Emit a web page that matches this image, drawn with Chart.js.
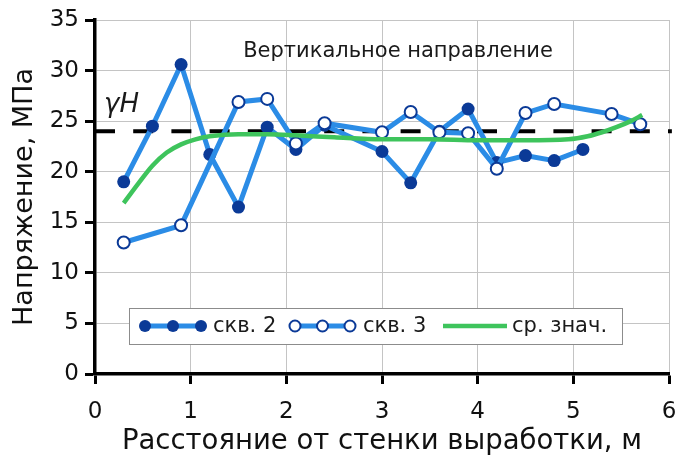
<!DOCTYPE html>
<html>
<head>
<meta charset="utf-8">
<script src="https://cdn.jsdelivr.net/npm/chart.js@4.4.0/dist/chart.umd.min.js"></script>
<style>
  html, body { margin: 0; padding: 0; background: #fff; }
</style>
</head>
<body>
<canvas id="chart" width="678" height="458"></canvas>
<script>
// скв. 2 (filled markers)
const skv2X = [0.3, 0.6, 0.9, 1.2, 1.5, 1.8, 2.1, 2.4, 3.0, 3.3, 3.6, 3.9, 4.2, 4.5, 4.8, 5.1];
const skv2Y = [19.0, 24.5, 30.6, 21.7, 16.5, 24.4, 22.2, 24.6, 22.0, 18.9, 24.0, 26.2, 20.9, 21.6, 21.1, 22.2];

// скв. 3 (hollow markers)
const skv3X = [0.3, 0.9, 1.5, 1.8, 2.1, 2.4, 3.0, 3.3, 3.6, 3.9, 4.2, 4.5, 4.8, 5.4, 5.7];
const skv3Y = [13.0, 14.7, 26.9, 27.2, 22.8, 24.8, 23.9, 25.9, 23.9, 23.8, 20.3, 25.8, 26.7, 25.7, 24.7];

// ср. знач. (smooth mean curve)
const meanX = [0.3, 0.45, 0.6, 0.75, 0.9, 1.05, 1.2, 1.5, 1.8, 2.1, 2.5, 3.0, 3.5, 4.0, 4.5, 4.95, 5.15, 5.3, 5.45, 5.6, 5.72];
const meanY = [16.9, 18.8, 20.6, 21.9, 22.7, 23.2, 23.5, 23.7, 23.7, 23.6, 23.4, 23.2, 23.2, 23.1, 23.1, 23.2, 23.5, 23.9, 24.4, 25.0, 25.6];

// γH level
const gammaH = 24;
const gammaX = [0, 6.03];

const xTicks = [0, 1, 2, 3, 4, 5, 6];
const yTicks = [0, 5, 10, 15, 20, 25, 30, 35];

const legendLabels = ["скв. 2", "скв. 3", "ср. знач."];
const chartTitle = "Вертикальное направление";

const BLUE = "#2b8ce6";
const NAVY = "#0b3a97";
const GREEN = "#3ec45c";
const FONT = "DejaVu Sans";

const toPts = (xs, ys) => xs.map((x, i) => ({ x: x, y: ys[i] }));

// title, γH label and in-plot legend
const overlayPlugin = {
  id: "overlay",
  afterDraw(chart) {
    const c = chart.ctx;
    const y = chart.scales.y;
    c.save();
    c.fillStyle = "#1a1a1a";
    c.textBaseline = "alphabetic";

    c.font = "21px '" + FONT + "'";
    c.textAlign = "center";
    c.fillText(chartTitle, 398, 57);

    c.font = "italic 26px '" + FONT + "'";
    c.textAlign = "left";
    c.fillText("\u03B3H", 104, y.getPixelForValue(gammaH) - 19);

    // legend box
    const bx = 129, by = 308, bw = 493, bh = 36, cy = by + bh / 2;
    c.fillStyle = "#fff";
    c.fillRect(bx, by, bw, bh);
    c.strokeStyle = "#8c8c8c";
    c.lineWidth = 1;
    c.strokeRect(bx + 0.5, by + 0.5, bw, bh);

    function markerLine(x0, x1, filled) {
      c.strokeStyle = BLUE;
      c.lineWidth = 5;
      c.beginPath(); c.moveTo(x0, cy); c.lineTo(x1, cy); c.stroke();
      [x0, (x0 + x1) / 2, x1].forEach(px => {
        c.beginPath();
        c.arc(px, cy, filled ? 6 : 5.5, 0, Math.PI * 2);
        c.fillStyle = filled ? NAVY : "#fff";
        c.fill();
        if (!filled) { c.strokeStyle = NAVY; c.lineWidth = 2; c.stroke(); }
      });
    }
    markerLine(145, 201, true);
    markerLine(295, 350, false);
    c.strokeStyle = GREEN;
    c.lineWidth = 4.5;
    c.beginPath(); c.moveTo(443, cy); c.lineTo(507, cy); c.stroke();

    c.fillStyle = "#1a1a1a";
    c.font = "21px '" + FONT + "'";
    c.textAlign = "left";
    c.textBaseline = "middle";
    c.fillText(legendLabels[0], 213, cy + 1);
    c.fillText(legendLabels[1], 363, cy + 1);
    c.fillText(legendLabels[2], 512, cy + 1);
    c.restore();
  }
};

new Chart(document.getElementById("chart"), {
  type: "line",
  data: {
    datasets: [
      {
        label: legendLabels[2],
        data: toPts(meanX, meanY),
        borderColor: GREEN,
        borderWidth: 4.5,
        pointRadius: 0,
        cubicInterpolationMode: "monotone",
        order: 0
      },
      {
        label: legendLabels[1],
        data: toPts(skv3X, skv3Y),
        borderColor: BLUE,
        borderWidth: 5,
        pointRadius: 6,
        pointBackgroundColor: "#fff",
        pointBorderColor: NAVY,
        pointBorderWidth: 2,
        tension: 0,
        order: 1
      },
      {
        label: legendLabels[0],
        data: toPts(skv2X, skv2Y),
        borderColor: BLUE,
        borderWidth: 5,
        pointRadius: 6.5,
        pointBackgroundColor: NAVY,
        pointBorderColor: NAVY,
        pointBorderWidth: 0,
        tension: 0,
        order: 2
      },
      {
        label: "γH",
        data: gammaX.map(x => ({ x: x, y: gammaH })),
        borderColor: "#000",
        borderWidth: 4,
        borderDash: [20, 18.2],
        pointRadius: 0,
        clip: { left: 12, right: 12, top: 0, bottom: 0 },
        order: 3
      }
    ]
  },
  options: {
    responsive: false,
    animation: false,
    devicePixelRatio: 1,
    layout: { padding: { top: 20, right: 9, left: 0, bottom: 0 } },
    plugins: {
      legend: { display: false },
      tooltip: { enabled: false }
    },
    scales: {
      x: {
        type: "linear",
        min: 0,
        max: 6,
        afterBuildTicks: s => { s.ticks = xTicks.map(v => ({ value: v })); },
        afterFit: s => { s.height = 84; s.paddingLeft = 0; s.paddingRight = 0; },
        ticks: { font: { family: FONT, size: 23 }, color: "#111", padding: 14 },
        grid: { color: "#c4c4c4", lineWidth: 1, tickColor: "#000", tickWidth: 3, tickLength: 10 },
        border: { color: "#000", width: 3.5 },
        title: {
          display: true,
          text: "Расстояние от стенки выработки, м",
          font: { family: FONT, size: 27.5 },
          color: "#111",
          padding: { top: 0, bottom: 0 }
        }
      },
      y: {
        type: "linear",
        min: 0,
        max: 35,
        afterBuildTicks: s => { s.ticks = yTicks.map(v => ({ value: v })); },
        afterFit: s => { s.width = 95; },
        ticks: { font: { family: FONT, size: 23 }, color: "#111", padding: 6 },
        grid: { color: "#c4c4c4", lineWidth: 1, tickColor: "#000", tickWidth: 3, tickLength: 10 },
        border: { color: "#000", width: 3.5 },
        title: {
          display: true,
          text: "Напряжение, МПа",
          font: { family: FONT, size: 27 },
          color: "#111",
          padding: { top: 9, bottom: 0 }
        }
      }
    }
  },
  plugins: [overlayPlugin]
});
</script>
</body>
</html>
